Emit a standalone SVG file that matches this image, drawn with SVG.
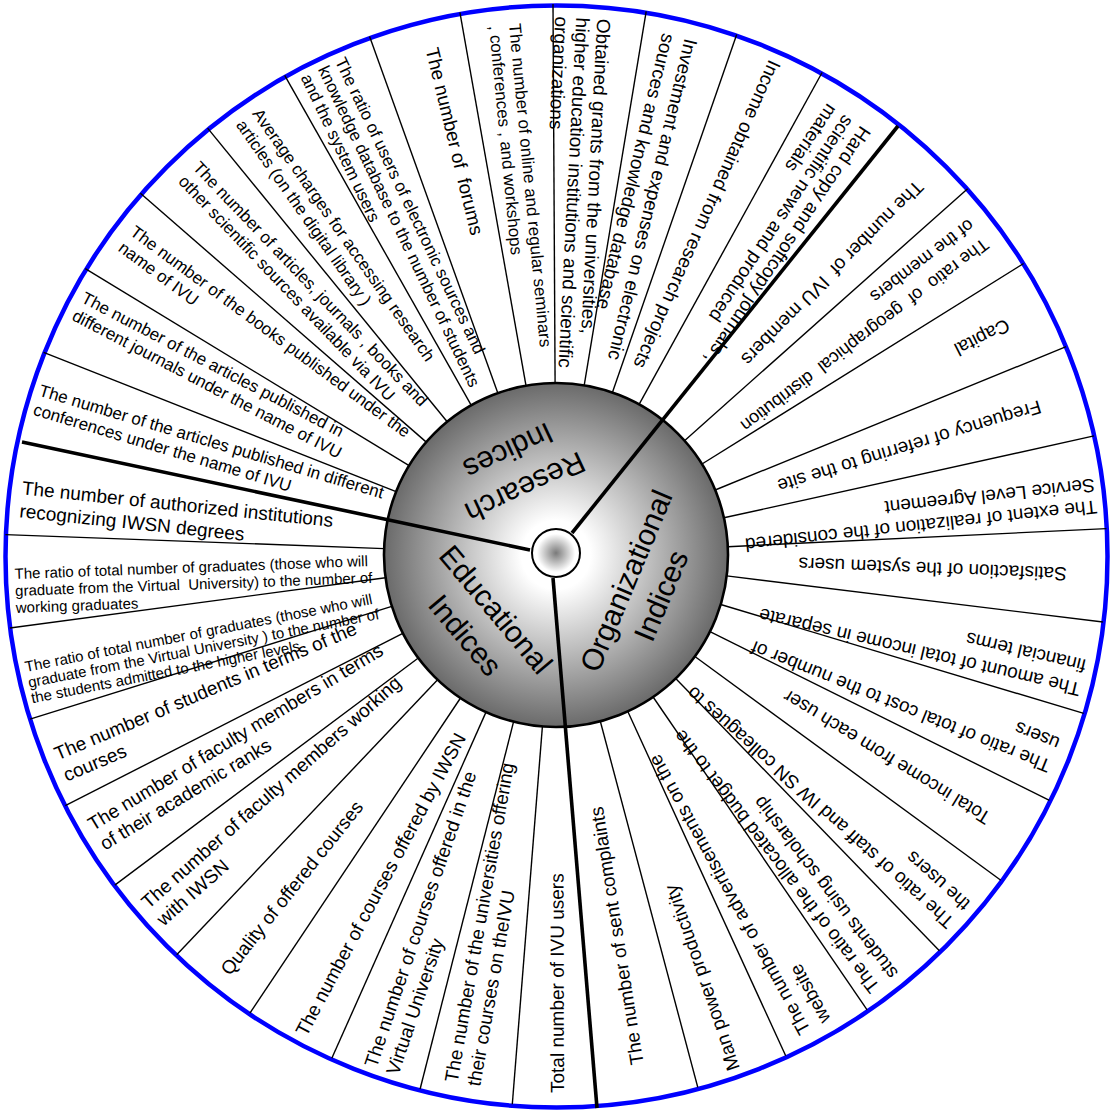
<svg xmlns="http://www.w3.org/2000/svg" width="1110" height="1113" viewBox="0 0 1110 1113">
<defs>
<radialGradient id="gBig" cx="556" cy="555" r="172" gradientUnits="userSpaceOnUse"><stop offset="0" stop-color="#ffffff"/><stop offset="0.2" stop-color="#ffffff"/><stop offset="1" stop-color="#6a6a6a"/></radialGradient>
<radialGradient id="gSmall" cx="0.5" cy="0.5" r="0.5"><stop offset="0" stop-color="#7a7a7a"/><stop offset="0.8" stop-color="#ffffff"/><stop offset="1" stop-color="#ffffff"/></radialGradient>
</defs>
<style>
text{font-family:"Liberation Sans",Arial,Helvetica,sans-serif;fill:#000;dominant-baseline:central}
.f19{font-size:19px}.f18{font-size:18px}.f17{font-size:17px}.f15{font-size:15px}
.f30{font-size:30px;text-anchor:middle}
.sp{stroke:#000;stroke-width:1.4;fill:none}
.tk{stroke:#000;stroke-width:3.6;fill:none}
</style>
<rect x="0" y="0" width="1110" height="1113" fill="#fff"/>
<circle id="rim" cx="556.5" cy="556.5" r="551" fill="#fff" stroke="#0000ff" stroke-width="4.5"/>
<g id="connectors">
<line class="sp" x1="684.5" y1="440.7" x2="967.6" y2="188.7"/>
<line class="sp" x1="702.0" y1="464.0" x2="1023.6" y2="263.5"/>
<line class="sp" x1="715.2" y1="490.0" x2="1066.1" y2="346.7"/>
<line class="sp" x1="723.9" y1="517.8" x2="1094.0" y2="435.9"/>
<line class="sp" x1="727.8" y1="546.7" x2="1106.4" y2="528.6"/>
<line class="sp" x1="726.7" y1="575.9" x2="1102.9" y2="622.0"/>
<line class="sp" x1="720.7" y1="604.5" x2="1083.7" y2="713.4"/>
<line class="sp" x1="710.0" y1="631.6" x2="1049.4" y2="800.3"/>
<line class="sp" x1="694.9" y1="656.5" x2="1000.8" y2="880.2"/>
<line class="sp" x1="675.7" y1="678.5" x2="939.4" y2="950.7"/>
<line class="sp" x1="653.1" y1="697.0" x2="867.1" y2="1009.8"/>
<line class="sp" x1="627.7" y1="711.3" x2="785.7" y2="1055.8"/>
<line class="sp" x1="600.3" y1="721.2" x2="697.8" y2="1087.4"/>
<line class="sp" x1="542.4" y1="726.5" x2="512.3" y2="1104.3"/>
<line class="sp" x1="513.6" y1="721.7" x2="420.1" y2="1089.0"/>
<line class="sp" x1="486.0" y1="712.1" x2="331.8" y2="1058.3"/>
<line class="sp" x1="460.5" y1="698.0" x2="249.9" y2="1013.2"/>
<line class="sp" x1="437.6" y1="679.8" x2="176.7" y2="954.7"/>
<line class="sp" x1="418.3" y1="658.0" x2="114.8" y2="885.1"/>
<line class="sp" x1="402.8" y1="633.3" x2="65.3" y2="805.7"/>
<line class="sp" x1="391.8" y1="606.3" x2="30.0" y2="719.2"/>
<line class="sp" x1="385.5" y1="577.8" x2="9.9" y2="628.0"/>
<line class="sp" x1="384.1" y1="548.6" x2="5.4" y2="534.6"/>
<line class="sp" x1="396.1" y1="491.7" x2="43.6" y2="352.4"/>
<line class="sp" x1="409.1" y1="465.6" x2="85.3" y2="268.6"/>
<line class="sp" x1="426.3" y1="442.1" x2="140.4" y2="193.3"/>
<line class="sp" x1="447.2" y1="421.8" x2="207.6" y2="128.1"/>
<line class="sp" x1="471.3" y1="405.3" x2="284.7" y2="75.4"/>
<line class="sp" x1="497.8" y1="393.1" x2="369.6" y2="36.5"/>
<line class="sp" x1="526.0" y1="385.6" x2="459.9" y2="12.4"/>
<line class="sp" x1="555.1" y1="383.0" x2="553.0" y2="4.0"/>
<line class="sp" x1="584.2" y1="385.3" x2="646.2" y2="11.4"/>
<line class="sp" x1="612.4" y1="392.5" x2="736.7" y2="34.5"/>
<line class="sp" x1="639.1" y1="404.4" x2="822.1" y2="72.5"/>
</g>
<g id="org-items">
<g id="o1" transform="translate(556 555) rotate(-45.5) translate(520 0) rotate(180)"><text class="f19" xml:space="preserve"><tspan x="0" y="0">The number of  IVU members</tspan></text></g>
<g id="o2" transform="translate(556 555) rotate(-37.3) translate(532 0) rotate(180)"><text class="f18" xml:space="preserve"><tspan x="0" y="-12">The ratio  of  geographical  distribution</tspan><tspan x="0" y="12">of the members</tspan></text></g>
<g id="o3" transform="translate(556 555) rotate(-27) translate(508 0) rotate(180)"><text class="f19"><tspan x="0" y="0">Capital</tspan></text></g>
<g id="o4" transform="translate(556 555) rotate(-17) translate(507 0) rotate(180)"><text class="f19"><tspan x="0" y="0">Frequency of referring to the site</tspan></text></g>
<g id="o5" transform="translate(556 555) rotate(-6.2) translate(543 0) rotate(180)"><text class="f19"><tspan x="0" y="-11">The extent of realization of the considered</tspan><tspan x="0" y="11">Service Level Agreement</tspan></text></g>
<g id="o6" transform="translate(556 555) rotate(2.2) translate(511 0) rotate(180)"><text class="f19"><tspan x="0" y="0">Satisfaction of the system users</tspan></text></g>
<g id="o7" transform="translate(556 555) rotate(13.2) translate(541 0) rotate(180)"><text class="f19"><tspan x="0" y="-12">The amount of total income in separate</tspan><tspan x="0" y="12">financial terms</tspan></text></g>
<g id="o8" transform="translate(556 555) rotate(22) translate(537 0) rotate(180)"><text class="f19"><tspan x="0" y="-12">The ratio of total cost to the number of</tspan><tspan x="0" y="12">users</tspan></text></g>
<g id="o9" transform="translate(556 555) rotate(31.5) translate(507 0) rotate(180)"><text class="f19"><tspan x="0" y="0">Total income from each user</tspan></text></g>
<g id="o10" transform="translate(556 555) rotate(41.9) translate(541 0) rotate(180)"><text class="f19"><tspan x="0" y="-12">The ratio of staff and IW SN colleagues to</tspan><tspan x="0" y="12">the users</tspan></text></g>
<g id="o11" transform="translate(556 555) rotate(52.6) translate(540 0) rotate(180)"><text class="f19"><tspan x="0" y="-11.5">The ratio of the allocated budget to the</tspan><tspan x="0" y="11.5">students using scholarship</tspan></text></g>
<g id="o12" transform="translate(556 555) rotate(61.3) translate(539 0) rotate(180)"><text class="f19"><tspan x="0" y="-11.5">The number of advertisements on the</tspan><tspan x="0" y="11.5">website</tspan></text></g>
<g id="o13" transform="translate(556 555) rotate(71) translate(545 0) rotate(180)"><text class="f19"><tspan x="0" y="0">Man power productivity</tspan></text></g>
<g id="o14" transform="translate(556 555) rotate(81) translate(516 0) rotate(180)"><text class="f19"><tspan x="0" y="0">The number of sent complaints</tspan></text></g>
</g>
<g id="edu-items">
<g id="e1" transform="translate(556 555) rotate(89.9) translate(538 0) rotate(180)"><text class="f19"><tspan x="0" y="0">Total number of IVU users</tspan></text></g>
<g id="e2" transform="translate(556 555) rotate(100.1) translate(537 0) rotate(180)"><text class="f19"><tspan x="0" y="-11.5">The number of the universities offering</tspan><tspan x="0" y="11.5">their courses on theIVU</tspan></text></g>
<g id="e3" transform="translate(556 555) rotate(108.8) translate(544 0) rotate(180)"><text class="f19"><tspan x="0" y="-11.5">The number of courses offered in the</tspan><tspan x="0" y="11.5">Virtual University</tspan></text></g>
<g id="e4" transform="translate(556 555) rotate(118.1) translate(543 0) rotate(180)"><text class="f19"><tspan x="0" y="0">The number of courses offered by IWSN</tspan></text></g>
<g id="e5" transform="translate(556 555) rotate(128.5) translate(533 0) rotate(180)"><text class="f19"><tspan x="0" y="0">Quality of offered courses</tspan></text></g>
<g id="e6" transform="translate(556 555) rotate(138.5) translate(540 0) rotate(180)"><text class="f19"><tspan x="0" y="-11.5">The number of faculty members working</tspan><tspan x="0" y="11.5">with IWSN</tspan></text></g>
<g id="e7" transform="translate(556 555) rotate(148.7) translate(539 0) rotate(180)"><text class="f19"><tspan x="0" y="-11.5">The number of faculty members in terms</tspan><tspan x="0" y="11.5">of their academic ranks</tspan></text></g>
<g id="e8" transform="translate(556 555) rotate(157.1) translate(539 0) rotate(180)"><text class="f19"><tspan x="0" y="-11.5">The number of students in terms of the</tspan><tspan x="0" y="11.5">courses</tspan></text></g>
<g id="e9" transform="translate(556 555) rotate(166.5) translate(543 0) rotate(182.4)"><text class="f15"><tspan x="0" y="-16">The ratio of total number of graduates (those who will</tspan><tspan x="0" y="0">graduate from the Virtual University ) to the number of</tspan><tspan x="0" y="16">the students admitted to the higher levels</tspan></text></g>
<g id="e10" transform="translate(556 555) rotate(176.3) translate(542 0) rotate(181.6)"><text class="f15" xml:space="preserve"><tspan x="0" y="-17">The ratio of total number of graduates (those who will</tspan><tspan x="0" y="0">graduate from the Virtual  University) to the number of</tspan><tspan x="0" y="17">working graduates</tspan></text></g>
<g id="e11" transform="translate(556 555) rotate(186) translate(538 0) rotate(180)"><text class="f19"><tspan x="0" y="-11.5">The number of authorized institutions</tspan><tspan x="0" y="11.5">recognizing IWSN degrees</tspan></text></g>
</g>
<g id="res-items">
<g id="r1" transform="translate(556 555) rotate(196.7) translate(542 0) rotate(180)"><text class="f17"><tspan x="0" y="-10">The number of the articles published in different</tspan><tspan x="0" y="10">conferences under the name of IVU</tspan></text></g>
<g id="r2" transform="translate(556 555) rotate(207.6) translate(539 0) rotate(180)"><text class="f17"><tspan x="0" y="-10">The number of the articles published in</tspan><tspan x="0" y="10">different journals under the name of IVU</tspan></text></g>
<g id="r3" transform="translate(556 555) rotate(216.5) translate(534 0) rotate(180)"><text class="f17"><tspan x="0" y="-10">The number of the books published under the</tspan><tspan x="0" y="10">name of IVU</tspan></text></g>
<g id="r4" transform="translate(556 555) rotate(226.3) translate(531 0) rotate(180)"><text class="f17"><tspan x="0" y="-10">The number of articles, journals , books and</tspan><tspan x="0" y="10">other scientific sources available via IVU</tspan></text></g>
<g id="r5" transform="translate(556 555) rotate(235) translate(536 0) rotate(180)"><text class="f17"><tspan x="0" y="-10">Average charges for accessing research</tspan><tspan x="0" y="10">articles (on the digital library )</tspan></text></g>
<g id="r6" transform="translate(556 555) rotate(244.5) translate(541 0) rotate(180)"><text class="f17"><tspan x="0" y="-19">The ratio of users of electronic sources and</tspan><tspan x="0" y="0">knowledge database to the number of students</tspan><tspan x="0" y="19">and the system users</tspan></text></g>
<g id="r7" transform="translate(556 555) rotate(256.3) translate(522 0) rotate(180)"><text class="f19" xml:space="preserve"><tspan x="0" y="0">The number of  forums</tspan></text></g>
<g id="r8" transform="translate(556 555) rotate(264.5) translate(533 0) rotate(180)"><text class="f17"><tspan x="0" y="-10">The number of online and regular seminars</tspan><tspan x="0" y="10">, conferences , and workshops</tspan></text></g>
<g id="r9" transform="translate(556 555) rotate(272.9) translate(538 0) rotate(180)"><text class="f19"><tspan x="0" y="-21">Obtained grants from the universities,</tspan><tspan x="0" y="0">higher education institutions and scientific</tspan><tspan x="0" y="21">organizations</tspan></text></g>
<g id="r10" transform="translate(556 555) rotate(283.5) translate(533 0) rotate(180)"><text class="f19"><tspan x="0" y="-11.5">Investment and expenses on electronic</tspan><tspan x="0" y="11.5">sources and knowledge database</tspan></text></g>
<g id="r11" transform="translate(556 555) rotate(294) translate(540 0) rotate(180)"><text class="f19"><tspan x="0" y="0">Income obtained from research projects</tspan></text></g>
<g id="r12" transform="translate(556 555) rotate(303.9) translate(527 0) rotate(180)"><text class="f19"><tspan x="0" y="-20">Hard copy and softcopy journals ,</tspan><tspan x="0" y="0">scientific news and produced</tspan><tspan x="0" y="20">materials</tspan></text></g>
</g>
<g id="hub">
<circle cx="556" cy="555" r="172" fill="url(#gBig)" stroke="#000" stroke-width="2.6"/>
</g>
<g id="dividers">
<line class="tk" x1="572" y1="533" x2="898" y2="126"/>
<line class="tk" x1="530" y1="550" x2="22" y2="442"/>
<line class="tk" x1="553" y1="578" x2="597" y2="1108"/>
</g>
<g id="research-indices" transform="translate(517 470) rotate(155)"><text class="f30"><tspan x="0" y="-20">Research</tspan><tspan x="0" y="20">Indices</tspan></text></g>
<g id="organizational-indices" transform="translate(643 588) rotate(-67.2)"><text class="f30"><tspan x="0" y="-19">Organizational</tspan><tspan x="0" y="19">Indices</tspan></text></g>
<g id="educational-indices" transform="translate(481 622) rotate(50)"><text class="f30"><tspan x="0" y="-20">Educational</tspan><tspan x="0" y="20">Indices</tspan></text></g>
<g id="center">
<circle cx="556" cy="553" r="24" fill="url(#gSmall)" stroke="#000" stroke-width="2"/>
</g>
</svg>
